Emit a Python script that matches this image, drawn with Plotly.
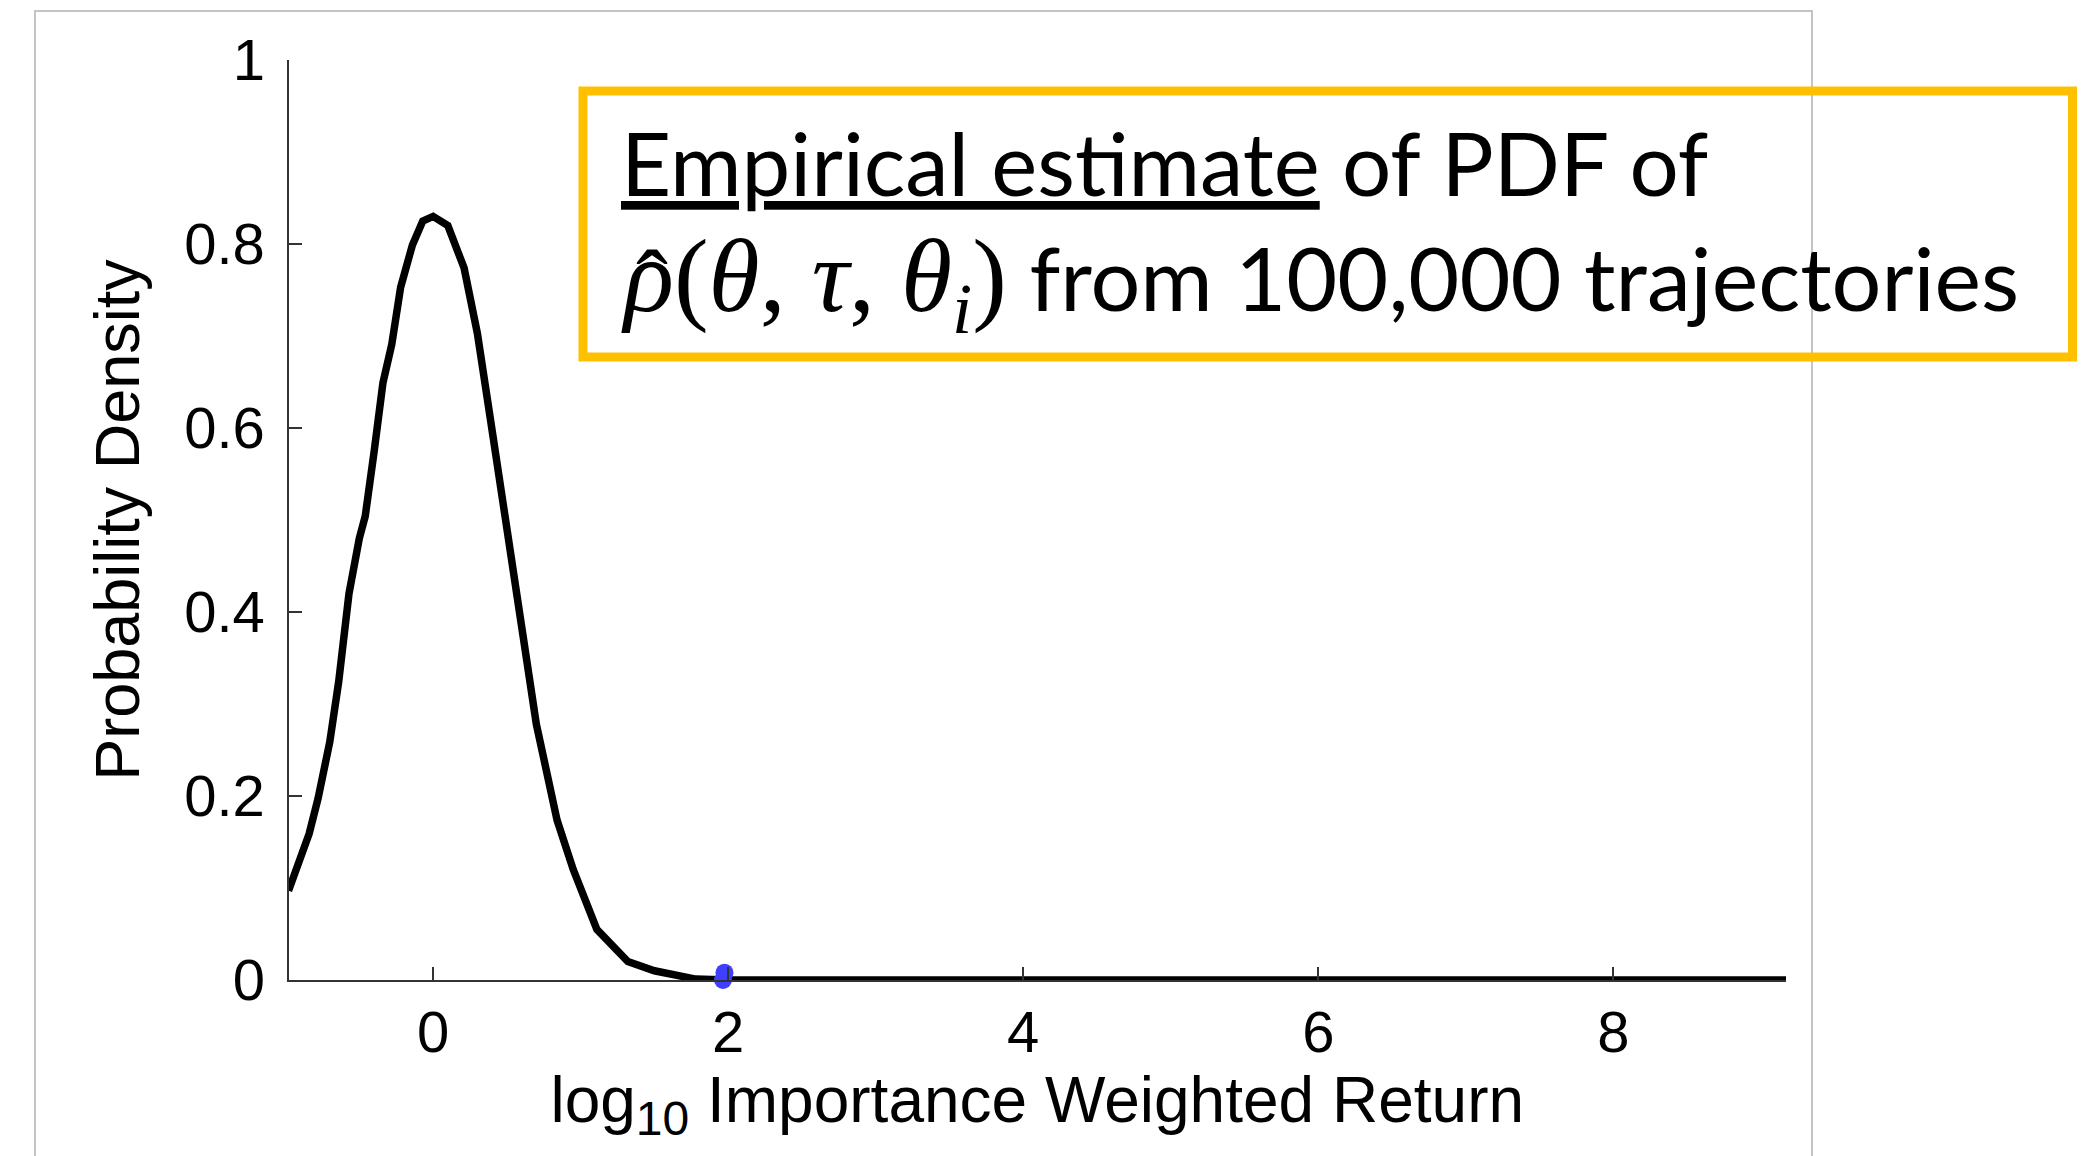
import plotly.graph_objects as go

# Empirical PDF estimate
log_return = [-0.98, -0.84, -0.78, -0.70, -0.64, -0.57, -0.50, -0.46, -0.40, -0.34,
              -0.28, -0.22, -0.14, -0.07, 0.00, 0.10, 0.21, 0.30, 0.39, 0.48,
              0.57, 0.64, 0.70, 0.84, 0.95, 1.11, 1.32, 1.50, 1.65, 1.78,
              2.00, 4.00, 6.00, 8.00, 9.17]
density = [0.097, 0.159, 0.197, 0.259, 0.324, 0.420, 0.480, 0.504, 0.574, 0.649,
           0.691, 0.753, 0.799, 0.825, 0.830, 0.820, 0.774, 0.703, 0.608, 0.512,
           0.420, 0.350, 0.278, 0.174, 0.120, 0.055, 0.020, 0.010, 0.0045, 0.001,
           0.0, 0.0, 0.0, 0.0, 0.0]

# Highlighted sample
dot_x = [1.965, 1.975]
dot_y = [0.0, 0.008]

x_ticks = [0, 2, 4, 6, 8]
y_ticks = [0, 0.2, 0.4, 0.6, 0.8, 1]
y_tick_labels = ["0", "0.2", "0.4", "0.6", "0.8", "1"]

W, H = 2085, 1156
AX_FONT = "Liberation Sans, Arial, sans-serif"

fig = go.Figure()
fig.add_trace(go.Scatter(x=log_return, y=density, mode="lines",
                         line=dict(color="black", width=7.5), showlegend=False,
                         cliponaxis=False, hoverinfo="skip"))
fig.add_trace(go.Scatter(x=dot_x, y=dot_y, mode="markers",
                         marker=dict(color="#3f3fff", size=18, line=dict(width=0)),
                         showlegend=False, cliponaxis=False, hoverinfo="skip"))

fig.update_layout(
    width=W, height=H,
    margin=dict(l=0, r=0, t=0, b=0, autoexpand=False),
    paper_bgcolor="white", plot_bgcolor="white",
    xaxis=dict(
        domain=[288.5 / W, 1786 / W],
        range=[-0.98, 9.17],
        automargin=False,
        tickvals=x_ticks, ticktext=[str(v) for v in x_ticks],
        ticks="inside", ticklen=13, tickwidth=2, tickcolor="#333333",
        showline=True, linecolor="#333333", linewidth=2,
        showgrid=False, zeroline=False,
        tickfont=dict(family=AX_FONT, size=58, color="black"),
        ticklabelstandoff=0,
        title=dict(text="log<sub><span style='font-size:48px'>10</span></sub> Importance Weighted Return",
                   font=dict(family=AX_FONT, size=64, color="black"),
                   standoff=11),
    ),
    yaxis=dict(
        domain=[1 - 980 / H, 1 - 60 / H],
        range=[0, 1],
        automargin=False,
        tickvals=y_ticks, ticktext=y_tick_labels,
        ticks="inside", ticklen=13, tickwidth=2, tickcolor="#333333",
        showline=True, linecolor="#333333", linewidth=2,
        showgrid=False, zeroline=False,
        tickfont=dict(family=AX_FONT, size=58, color="black"),
        ticklabelstandoff=10,
        title=dict(text="Probability Density",
                   font=dict(family=AX_FONT, size=63, color="black"),
                   standoff=24),
    ),
)

# light grey slide frame
fig.add_shape(type="rect", xref="paper", yref="paper",
              x0=35 / W, x1=1812 / W, y0=-0.05, y1=1 - 11 / H,
              line=dict(color="#c4c4c4", width=2), fillcolor="rgba(0,0,0,0)",
              layer="below")

# yellow callout box
fig.add_shape(type="rect", xref="paper", yref="paper",
              x0=583 / W, x1=2072.5 / W, y0=1 - 357 / H, y1=1 - 91 / H,
              line=dict(color="#FFC000", width=9), fillcolor="rgba(0,0,0,0)",
              layer="above")

BOX_FONT = "Lato, Open Sans, sans-serif"
MATH = "font-family:Liberation Serif, DejaVu Serif, serif;font-style:italic;font-size:104px"
UP = "font-family:Liberation Serif, DejaVu Serif, serif;font-size:104px"
fig.add_annotation(xref="paper", yref="paper", x=619 / W, y=1 - 162 / H,
                   xanchor="left", yanchor="middle", showarrow=False,
                   text="<u>Empirical estimate</u> of PDF of",
                   font=dict(family=BOX_FONT, size=87, color="black"))
fig.add_annotation(xref="paper", yref="paper", x=619 / W, y=1 - 283 / H,
                   xanchor="left", yanchor="middle", showarrow=False,
                   text=(f"<span style='{MATH}'>ρ</span><span style='{UP}'>(</span>"
                         f"<span style='{MATH}'>θ</span><span style='{UP}'>, </span>"
                         f"<span style='{MATH}'>τ</span><span style='{UP}'>, </span>"
                         f"<span style='{MATH}'>θ<sub>i</sub></span><span style='{UP}'>)</span>"
                         " from 100,000 trajectories"),
                   font=dict(family=BOX_FONT, size=88, color="black"))
# circumflex over rho
fig.add_annotation(xref="paper", yref="paper", x=652 / W, y=1 - 283 / H,
                   xanchor="center", yanchor="middle", showarrow=False,
                   text="ˆ",
                   font=dict(family="Liberation Serif, serif", size=96, color="black"))

fig.write_html("out.html")
